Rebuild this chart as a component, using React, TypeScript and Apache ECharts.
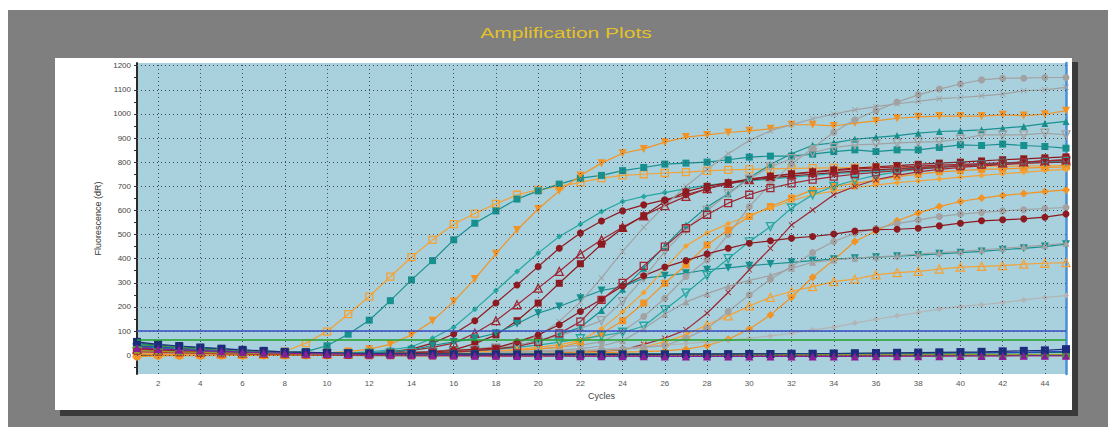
import React, { useEffect, useRef } from "react";
import * as echarts from "echarts";

// ---------- data ----------
const cycles = [1,2,3,4,5,6,7,8,9,10,11,12,13,14,15,16,17,18,19,20,21,22,23,24,25,26,27,28,29,30,31,32,33,34,35,36,37,38,39,40,41,42,43,44,45];
const xLabelCycles = [2,4,6,8,10,12,14,16,18,20,22,24,26,28,30,32,34,36,38,40,42,44];
const yLabelValues = [0,100,200,300,400,500,600,700,800,900,1000,1100,1200];
const yTickValues = [-50,0,50,100,150,200,250,300,350,400,450,500,550,600,650,700,750,800,850,900,950,1000,1050,1100,1150,1200];
const thresholds = [100, 62];

const orangeOpenSq = [12,8,6,4,3,3,5,15,50,98, 170,243,326,406,478,543,587,627,665,685, 700,716,734,745,750,755,759,764,768,770, 772,774,775,776,777,778,779,780,781,782, 782,783,784,785,786];
const tealSq = [40,30,24,20,16,13,10,8,15,39, 87,145,226,312,392,478,547,598,647,681, 709,734,745,765,778,792,796,800,810,821, 825,825,833,844,851,844,851,851,861,872, 869,875,869,865,858];
const orangeTriDown = [10,6,4,3,2,2,3,4,6,10, 15,25,45,84,143,222,316,420,519,606, 681,745,796,837,855,883,904,913,923,930, 938,955,955,950,962,971,982,988,991,991, 991,996,993,999,1013];
const tealSmall = [45,35,28,22,18,14,11,9,8,8, 10,14,22,35,70,116,190,268,347,423, 492,543,595,637,658,674,690,705,713,722, 730,738,745,752,758,764,770,775,780,785, 790,795,798,802,805];
const redCircle = [30,24,20,16,13,10,8,7,6,6, 7,9,14,25,50,88,143,216,291,367, 443,506,556,598,623,644,665,690,710,725, 735,743,750,757,763,768,773,778,782,786, 790,795,800,805,810];
const redOpenTri = [25,20,16,13,10,8,6,5,5,5, 6,8,12,20,32,50,91,143,209,278, 347,420,478,530,578,620,658,690,712,728, 740,750,758,765,771,776,780,784,788,791, 794,797,800,803,806];
const redSq = [35,28,22,18,14,11,9,7,6,6, 6,7,9,12,16,22,48,84,143,216, 298,379,460,526,578,637,678,700,715,730, 742,752,760,768,775,781,786,791,796,800, 805,810,814,818,822];
const tealTriDown = [50,40,32,25,20,16,12,10,9,8, 9,10,14,22,40,55,70,91,130,174, 202,236,268,284,319,329,340,354,362,371, 378,385,392,398,402,406,410,415,420,425, 430,437,443,450,460];
const tealTriUp = [38,30,24,19,15,12,10,8,7,6, 6,6,7,8,10,13,18,25,40,60, 85,116,185,273,360,453,540,614,669,735, 790,835,870,880,895,903,910,920,927,930, 934,941,948,960,969];
const grayCircleTop = [20,16,12,10,8,6,5,4,4,4, 4,5,6,7,8,10,12,15,20,26, 33,42,55,98,160,236,326,395,500,616, 710,792,858,924,976,1013,1049,1079,1103,1124, 1141,1148,1148,1151,1151];
const grayCross = [18,14,11,9,7,6,5,4,4,4, 5,6,8,11,15,20,26,35,50,80, 140,220,320,430,530,620,700,770,835,890, 930,955,980,999,1017,1030,1042,1052,1063,1068, 1075,1082,1096,1100,1110];
const grayOpenTriDown = [15,12,10,8,6,5,4,4,4,4, 5,6,7,9,12,16,22,30,42,58, 80,110,143,222,320,430,520,600,669,730, 780,815,840,860,872,875,880,883,885,895, 913,913,913,920,913];
const orangeSq = [8,5,3,2,1,1,2,2,3,4, 5,6,7,8,10,12,14,17,21,25, 32,55,90,143,216,298,374,457,519,575, 616,651,685,699,712,725,740,750,760,765, 770,772,775,778,780];
const orangeSmall = [6,4,3,2,1,1,1,2,2,3, 4,5,6,7,9,11,14,18,24,32, 44,60,110,180,260,360,453,506,545,580, 610,640,665,680,695,705,715,722,730,738, 745,752,758,765,770];
const tealOpenTriDown = [30,24,19,15,12,10,8,7,6,6, 6,7,8,9,11,14,18,24,32,42, 54,68,80,95,120,188,257,330,400,470, 533,610,665,700,725,745,760,770,778,784, 790,795,798,800,803];
const redCross = [20,15,12,9,7,5,4,3,3,3, 3,3,4,4,5,6,7,8,9,10, 12,14,17,22,45,70,105,174,260,354, 443,540,602,665,699,727,745,760,770,778, 785,790,795,798,800];
const orangeDiamondLate = [5,3,2,1,1,1,1,2,2,2, 3,3,4,4,5,5,6,6,7,8, 9,10,11,13,15,18,25,40,66,108, 167,240,323,395,471,515,557,589,616,637, 651,662,670,678,685];
const orangeOpenTri = [10,7,5,4,3,3,3,3,3,3, 4,4,5,5,6,7,8,9,10,12, 14,16,19,23,35,55,84,126,163,204, 240,264,284,305,315,333,342,347,357,365, 368,371,377,381,384];
const grayDiamondSmall = [12,9,7,5,4,3,3,3,3,4, 4,5,5,6,6,7,8,9,10,10, 15,20,25,30,35,42,48,55,61,70, 80,91,105,116,133,149,163,177,191,202, 209,218,229,239,247];
const grayTriUp = [14,11,9,7,6,5,4,4,4,4, 5,5,6,7,8,9,10,12,14,17, 21,27,38,60,110,170,220,255,285,310, 330,360,385,395,402,408,412,420,425,430, 437,443,450,456,464];
const grayCircleLow = [16,12,10,8,6,5,4,4,4,4, 4,5,5,6,7,8,9,10,12,14, 16,18,21,25,32,40,70,110,181,250, 315,367,425,471,505,525,545,560,575,585, 592,598,603,608,612];
const redCircleLow = [28,22,18,14,11,9,7,6,6,6, 6,7,8,10,14,20,24,30,55,84, 126,181,232,287,329,365,392,420,443,464, 474,485,492,502,515,520,522,526,536,547, 557,561,565,572,585];
const redOpenSq = [22,18,14,11,9,7,6,5,5,5, 5,6,7,8,10,13,18,26,36,55, 90,139,229,300,370,450,526,582,630,665, 692,712,728,740,750,758,765,772,778,784, 790,795,800,805,810];

const baseNavy = [55,45,38,32,27,22,18,14,12,10, 8,7,6,5,5,4,4,4,3,3, 3,3,3,3,3,3,4,4,4,5, 5,6,6,7,8,9,10,11,12,13, 14,16,18,20,25];
const basePurple = [30,26,22,19,16,13,10,8,6,5, 4,3,2,1,0,-1,-2,-2,-3,-3, -3,-4,-4,-4,-4,-5,-5,-5,-5,-5, -5,-5,-5,-5,-5,-4,-4,-4,-4,-3, -3,-3,-2,-2,-2];
const baseGreen = [45,38,32,27,23,19,16,13,11,9, 8,7,6,5,5,4,4,4,4,4, 4,4,4,4,4,4,4,4,4,4, 4,4,4,4,4,4,4,4,4,4, 4,3,3,3,2];
const baseOlive = [20,17,14,12,10,8,7,6,5,4, 3,3,2,2,2,1,1,1,1,1, 1,1,1,1,1,1,1,1,1,1, 1,1,1,1,1,1,1,1,1,2, 2,2,2,2,3];
const baseOrange = [-6,-3,-2,-2,-1,-1,0,0,0,0, 1,1,1,1,1,1,1,1,1,1, 1,1,1,1,1,1,1,1,2,2, 2,2,2,2,2,2,2,2,2,2, 2,2,2,2,2];
const baseTeal = [50,42,35,30,25,21,17,14,12,10, 9,8,7,6,6,5,5,5,5,5, 5,5,5,5,5,5,6,6,6,6, 6,7,7,7,8,8,8,9,9,10, 10,11,11,12,12];
const baseRed = [15,12,9,7,5,4,3,2,1,0, -1,-2,-2,-3,-3,-3,-3,-4,-4,-4, -4,-4,-4,-4,-4,-4,-4,-4,-4,-4, -4,-3,-3,-3,-3,-3,-3,-3,-3,-2, -2,-2,-2,-2,-2];
const baseBlue = [40,34,29,25,21,18,15,12,10,8, 7,6,5,5,4,4,4,4,4,4, 4,4,4,4,4,4,4,4,5,5, 5,5,6,6,6,7,7,8,8,9, 10,11,12,14,16];

// ---------- styles ----------
const ORANGE = "#f5a234";
const ORANGE2 = "#f39323";
const TEAL = "#17918f";
const TEAL2 = "#26a7a2";
const RED = "#8e1a1f";
const RED2 = "#a02632";
const GRAY = "#a2a2a2";
const GRAY2 = "#b4b4b4";
const CROSS = "path://M0,1L1,0L5,4L9,0L10,1L6,5L10,9L9,10L5,6L1,10L0,9L4,5Z";

type Cfg = { name: string; data: number[]; color: string; symbol: string; size: number; hollow?: boolean; rotate?: number };

const curves: Cfg[] = [
  { name: "Well 1", data: orangeOpenSq, color: ORANGE, symbol: "rect", size: 7, hollow: true },
  { name: "Well 2", data: tealSq, color: TEAL, symbol: "rect", size: 7 },
  { name: "Well 3", data: orangeTriDown, color: ORANGE2, symbol: "triangle", size: 8, rotate: 180 },
  { name: "Well 4", data: tealSmall, color: TEAL2, symbol: "diamond", size: 6 },
  { name: "Well 5", data: redCircle, color: RED, symbol: "circle", size: 7 },
  { name: "Well 6", data: redOpenTri, color: RED2, symbol: "triangle", size: 8, hollow: true },
  { name: "Well 7", data: redSq, color: RED, symbol: "rect", size: 7 },
  { name: "Well 8", data: tealTriDown, color: TEAL, symbol: "triangle", size: 8, rotate: 180 },
  { name: "Well 9", data: tealTriUp, color: TEAL, symbol: "triangle", size: 7 },
  { name: "Well 10", data: grayCircleTop, color: GRAY, symbol: "circle", size: 7 },
  { name: "Well 11", data: grayCross, color: GRAY, symbol: CROSS, size: 6 },
  { name: "Well 12", data: grayOpenTriDown, color: GRAY, symbol: "triangle", size: 8, rotate: 180, hollow: true },
  { name: "Well 13", data: orangeSq, color: ORANGE2, symbol: "rect", size: 7 },
  { name: "Well 14", data: orangeSmall, color: ORANGE, symbol: "diamond", size: 6 },
  { name: "Well 15", data: tealOpenTriDown, color: TEAL2, symbol: "triangle", size: 8, rotate: 180, hollow: true },
  { name: "Well 16", data: redCross, color: RED2, symbol: CROSS, size: 6 },
  { name: "Well 17", data: orangeDiamondLate, color: ORANGE2, symbol: "diamond", size: 8 },
  { name: "Well 18", data: orangeOpenTri, color: ORANGE, symbol: "triangle", size: 8, hollow: true },
  { name: "Well 19", data: grayDiamondSmall, color: GRAY2, symbol: "diamond", size: 6 },
  { name: "Well 20", data: grayTriUp, color: GRAY, symbol: "triangle", size: 7 },
  { name: "Well 21", data: grayCircleLow, color: GRAY, symbol: "circle", size: 7 },
  { name: "Well 22", data: redCircleLow, color: RED, symbol: "circle", size: 7 },
  { name: "Well 23", data: redOpenSq, color: RED2, symbol: "rect", size: 7, hollow: true },
  { name: "NTC 1", data: baseOrange, color: ORANGE2, symbol: "circle", size: 8 },
  { name: "NTC 2", data: baseRed, color: "#c23a22", symbol: "triangle", size: 7 },
  { name: "NTC 3", data: baseTeal, color: "#1a6e6c", symbol: "rect", size: 7 },
  { name: "NTC 4", data: baseBlue, color: "#2a44b8", symbol: "circle", size: 7 },
  { name: "NTC 5", data: baseGreen, color: "#3b9b3b", symbol: "rect", size: 8 },
  { name: "NTC 6", data: baseOlive, color: "#8f9c30", symbol: "triangle", size: 7 },
  { name: "NTC 7", data: baseNavy, color: "#1e2a7e", symbol: "rect", size: 8 },
  { name: "NTC 8", data: basePurple, color: "#8a1c9c", symbol: "triangle", size: 8 },
];

const FONT = '"Liberation Sans", Arial, sans-serif';

export default function App() {
  const ref = useRef<HTMLDivElement>(null);

  useEffect(() => {
    document.body.style.margin = "0";
    if (!ref.current) return;
    const chart = echarts.init(ref.current, null, { renderer: "svg" });

    const dataSeries = curves.map((c) => ({
      name: c.name,
      type: "line",
      data: cycles.map((x, i) => [x, c.data[i]]),
      symbol: c.symbol,
      symbolSize: c.size,
      symbolRotate: c.rotate || 0,
      showSymbol: true,
      showAllSymbol: true,
      z: 3,
      lineStyle: { color: c.color, width: 1.2 },
      itemStyle: c.hollow
        ? { color: "rgba(0,0,0,0)", borderColor: c.color, borderWidth: 1.3 }
        : { color: c.color, borderWidth: 0 },
      emphasis: { disabled: true },
      silent: true,
    }));

    const gridSeries = {
      name: "grid",
      type: "line",
      data: [],
      silent: true,
      z: 1,
      markLine: {
        silent: true,
        symbol: ["none", "none"],
        label: { show: false },
        animation: false,
        lineStyle: { color: "#404a55", width: 1, type: [1, 3] },
        data: [
          ...xLabelCycles.map((v) => ({ xAxis: v })),
          ...yLabelValues.map((v) => ({ yAxis: v })),
        ],
      },
    };

    const thresholdSeries = {
      name: "threshold",
      type: "line",
      data: [],
      silent: true,
      z: 2,
      markLine: {
        silent: true,
        symbol: ["none", "none"],
        label: { show: false },
        animation: false,
        data: [
          { yAxis: thresholds[0], lineStyle: { color: "#3a4ec4", width: 1.6, type: "solid" } },
          { yAxis: thresholds[1], lineStyle: { color: "#22a22a", width: 1.6, type: "solid" } },
        ],
      },
    };

    const option = {
      animation: false,
      textStyle: { fontFamily: FONT },
      graphic: [
        { type: "rect", z: -30, silent: true, shape: { x: 0, y: 0, width: 1114, height: 427 }, style: { fill: "#ffffff" } },
        { type: "rect", z: -29, silent: true, shape: { x: 8, y: 10, width: 1100, height: 417 }, style: { fill: "#7f7f7f" } },
        { type: "rect", z: -28, silent: true, shape: { x: 60, y: 62, width: 1018, height: 354 }, style: { fill: "#3a3a3a" } },
        { type: "rect", z: -27, silent: true, shape: { x: 55, y: 58, width: 1017, height: 352 }, style: { fill: "#ffffff" } },
        {
          type: "text",
          z: 10,
          silent: true,
          x: 566,
          y: 33,
          scaleX: 1.4,
          style: { text: "Amplification Plots", fill: "#e4c22a", font: `15px ${FONT}`, align: "center", verticalAlign: "middle" },
        },
      ],
      grid: {
        left: 137,
        top: 63,
        width: 929,
        height: 311,
        show: true,
        backgroundColor: "#a8d0dd",
        borderWidth: 0,
        containLabel: false,
      },
      xAxis: {
        type: "value",
        min: 1,
        max: 45,
        interval: 1,
        name: "Cycles",
        nameLocation: "middle",
        nameGap: 17,
        nameTextStyle: { fontSize: 9, color: "#444", fontFamily: FONT },
        axisLine: { show: true, lineStyle: { color: "#333", width: 1.5 } },
        axisTick: { show: true, length: 3, lineStyle: { color: "#333" } },
        axisLabel: {
          fontSize: 8,
          color: "#555",
          margin: 5,
          fontFamily: FONT,
          showMinLabel: true,
          showMaxLabel: true,
          formatter: (v: number) => (xLabelCycles.indexOf(v) >= 0 ? String(v) : ""),
        },
        splitLine: { show: false },
      },
      yAxis: [
        {
          type: "value",
          min: -78,
          max: 1211,
          name: "Fluorescence (dR)",
          nameLocation: "middle",
          nameGap: 34,
          nameTextStyle: { fontSize: 9, color: "#333", fontFamily: FONT },
          axisLine: { show: true, lineStyle: { color: "#2a2a2a", width: 2 } },
          axisTick: { show: true, length: 3, customValues: yTickValues, lineStyle: { color: "#333" } },
          axisLabel: {
            fontSize: 8,
            color: "#444",
            margin: 6,
            fontFamily: FONT,
            customValues: yLabelValues,
            formatter: (v: number) => String(v),
          },
          splitLine: { show: false },
        },
        {
          type: "value",
          min: -78,
          max: 1211,
          position: "right",
          axisLine: { show: true, lineStyle: { color: "#4a8fd6", width: 2.5 } },
          axisTick: { show: false },
          axisLabel: { show: false },
          splitLine: { show: false },
        },
      ],
      tooltip: { show: false },
      series: [gridSeries, thresholdSeries, ...dataSeries],
    };

    chart.setOption(option as any);
    return () => chart.dispose();
  }, []);

  return <div ref={ref} style={{ width: 1114, height: 427 }} />;
}
